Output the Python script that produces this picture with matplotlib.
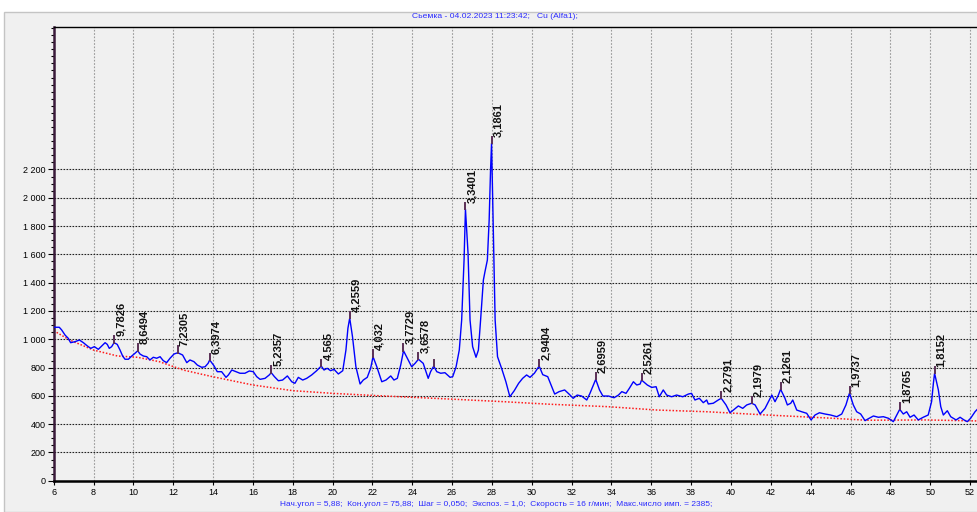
import matplotlib
matplotlib.use('Agg')
import matplotlib.pyplot as plt
from matplotlib.patches import Rectangle
from matplotlib.ticker import FuncFormatter, MultipleLocator, FixedLocator

plt.rcParams['font.family'] = ['Liberation Sans', 'DejaVu Sans']

# diffractogram, 2theta (deg) vs counts
two_theta = [6.00, 6.28, 6.40, 6.57, 6.73, 6.85, 7.07, 7.29, 7.49, 7.69, 7.86, 8.04, 8.24, 8.41,
             8.58, 8.69, 8.79, 8.91, 9.03, 9.19, 9.33, 9.46, 9.58, 9.75, 9.92, 10.08, 10.22,
             10.33, 10.50, 10.67, 10.83, 11.00, 11.17, 11.34, 11.50, 11.67, 11.84, 12.04, 12.23,
             12.47, 12.68, 12.84, 13.04, 13.21, 13.43, 13.60, 13.75, 13.83, 14.05, 14.21, 14.43,
             14.65, 14.77, 14.94, 15.15, 15.35, 15.60, 15.82, 16.02, 16.19, 16.36, 16.61, 16.82,
             16.92, 17.08, 17.28, 17.49, 17.73, 17.95, 18.11, 18.28, 18.50, 18.70, 18.95, 19.20,
             19.43, 19.57, 19.73, 19.90, 20.07, 20.29, 20.51, 20.67, 20.77, 20.86, 21.00, 21.17,
             21.38, 21.54, 21.74, 21.91, 22.03, 22.22, 22.47, 22.68, 22.92, 23.08, 23.25, 23.42,
             23.56, 23.75, 23.97, 24.14, 24.31, 24.55, 24.80, 24.92, 25.08, 25.23, 25.43, 25.64,
             25.90, 26.03, 26.20, 26.36, 26.48, 26.60, 26.67, 26.80, 26.90, 27.03, 27.20, 27.32,
             27.43, 27.57, 27.65, 27.77, 27.86, 27.93, 27.98, 28.06, 28.16, 28.28, 28.50, 28.70,
             28.90, 29.12, 29.34, 29.54, 29.74, 29.91, 30.13, 30.37, 30.55, 30.80, 31.15, 31.37,
             31.65, 31.87, 32.08, 32.28, 32.50, 32.76, 32.92, 33.09, 33.21, 33.40, 33.57, 33.85,
             34.13, 34.35, 34.52, 34.73, 34.90, 35.10, 35.27, 35.44, 35.51, 35.80, 36.02, 36.24,
             36.40, 36.60, 36.77, 37.02, 37.27, 37.58, 37.86, 38.02, 38.19, 38.41, 38.61, 38.78,
             38.86, 39.11, 39.36, 39.51, 39.75, 39.95, 40.12, 40.37, 40.59, 40.79, 41.04, 41.21,
             41.46, 41.71, 41.88, 42.05, 42.21, 42.38, 42.49, 42.71, 42.83, 43.00, 43.10, 43.30,
             43.55, 43.80, 44.02, 44.22, 44.44, 44.72, 45.00, 45.31, 45.56, 45.77, 45.95, 46.14,
             46.31, 46.51, 46.73, 46.90, 47.15, 47.40, 47.65, 47.90, 48.15, 48.32, 48.47, 48.65,
             48.82, 48.99, 49.19, 49.40, 49.65, 49.90, 50.07, 50.16, 50.22, 50.41, 50.53, 50.66,
             50.86, 51.03, 51.30, 51.50, 51.70, 51.86, 52.03, 52.25, 52.41]
counts = [1085, 1085, 1066, 1030, 1007, 976, 983, 995, 976, 953, 936, 948, 929, 953,
          976, 964, 936, 948, 976, 964, 924, 882, 859, 859, 882, 901, 919,
          896, 882, 877, 854, 873, 866, 877, 849, 835, 866, 896, 905,
          889, 835, 854, 842, 818, 802, 806, 830, 854, 812, 771, 771,
          731, 748, 783, 771, 760, 760, 776, 771, 736, 717, 724, 748,
          764, 736, 707, 712, 741, 700, 689, 731, 712, 724, 748, 778,
          811, 783, 795, 778, 788, 755, 778, 924, 1078, 1150, 1018, 806,
          684, 712, 731, 795, 877, 806, 700, 712, 741, 712, 724, 818,
          919, 866, 806, 830, 859, 830, 724, 771, 811, 771, 760, 764,
          731, 736, 806, 924, 1136, 1560, 1920, 1608, 1136, 948, 873, 924,
          1136, 1419, 1478, 1560, 1843, 2196, 2385, 1843, 1136, 877, 788, 700,
          594, 637, 689, 724, 748, 731, 760, 811, 750, 736, 613, 630,
          642, 613, 583, 606, 599, 571, 618, 677, 717, 642, 599, 599,
          587, 606, 630, 618, 654, 700, 677, 684, 712, 677, 660, 665,
          594, 642, 606, 594, 606, 594, 613, 618, 571, 583, 552, 571,
          543, 548, 571, 583, 536, 481, 500, 529, 512, 536, 548, 536,
          472, 512, 559, 606, 559, 606, 647, 583, 536, 548, 571, 500,
          488, 477, 430, 465, 481, 472, 465, 453, 472, 536, 620, 536,
          488, 472, 425, 439, 458, 449, 453, 442, 418, 465, 505, 472,
          488, 449, 465, 430, 449, 465, 559, 689, 760, 642, 524, 465,
          495, 453, 430, 449, 430, 418, 442, 488, 512]

# background line
bg_theta = [6.0, 6.8, 8.0, 9.2, 10.2, 11.3, 12.5, 13.9, 16.0, 18.0, 20.0, 22.2, 26.0, 28.6,
            30.9, 33.8, 36.3, 38.8, 41.8, 45.1, 46.8, 49.8, 52.4]
bg_counts = [1061, 995, 924, 882, 873, 842, 783, 738, 677, 637, 618, 602, 577, 559,
             541, 524, 500, 488, 465, 442, 428, 430, 423]

# marked peaks: 2theta, count at the top, d-spacing label
peak_theta = [9.03, 10.22, 12.23, 13.83, 16.92, 19.43, 20.86, 22.03, 23.56, 24.31, 25.08,
              26.67, 27.98, 30.37, 33.21, 35.51, 39.51, 41.04, 42.49, 45.95, 48.47, 50.22]
peak_counts = [976, 919, 905, 854, 764, 811, 1150, 877, 919, 859, 811,
               1920, 2385, 811, 717, 712, 583, 548, 647, 620, 505, 760]
peak_labels = ['9,7826', '8,6494', '7,2305', '6,3974', '5,2357', '4,565', '4,2559', '4,032',
               '3,7729', '3,6578', '', '3,3401', '3,1861', '2,9404', '2,6959', '2,5261',
               '2,2791', '2,1979', '2,1261', '1,9737', '1,8765', '1,8152']

title = 'Сьемка - 04.02.2023 11:23:42;   Cu (Alfa1);'
footer = ('Нач.угол = 5,88;  Кон.угол = 75,88;  Шаг = 0,050;  Экспоз. = 1,0;  '
          'Скорость = 16 г/мин;  Макс.число имп. = 2385;')

W, H = 978, 512
fig = plt.figure(figsize=(W / 100, H / 100), dpi=100, facecolor='white')
fig.patches.append(Rectangle((4 / W, 0), 1, (H - 12) / H, transform=fig.transFigure,
                             facecolor='#f0f0f0', edgecolor='#c4c4c4', lw=1, zorder=-10))

ax = fig.add_axes([53.7 / W, 31.2 / H, 1 - 53.7 / W, 453.8 / H])
ax.set_facecolor('#f0f0f0')
ax.set_xlim(6, 52.4)
ax.set_ylim(0, 3207)

# grid
for gx in range(8, 53, 2):
    ax.axvline(gx, color='#9a9a9a', lw=0.8, ls=(0, (1.5, 1.5)), zorder=1)
for gy in range(200, 2201, 200):
    ax.axhline(gy, color='#222222', lw=0.8, ls=(0, (1.5, 1.2)), zorder=1)

ax.plot(bg_theta, bg_counts, color='#ff1a1a', lw=1.1, ls=(0, (1, 1.2)), zorder=2)
ax.plot(two_theta, counts, color='#0000ff', lw=1.0, zorder=3)

for px, pc, lb in zip(peak_theta, peak_counts, peak_labels):
    ax.plot([px, px], [pc, pc + 45], color='#5a2f55', lw=1.4, zorder=4)
    if lb:
        ax.annotate(lb, (px, pc + 45), xytext=(1.2, 0), textcoords='offset points',
                    rotation=90, ha='left', va='bottom', fontsize=8, fontweight='bold',
                    color='#111111', zorder=5)

# axes look
ax.spines['right'].set_visible(False)
ax.spines['top'].set_color('black')
ax.spines['top'].set_linewidth(1.0)
ax.spines['bottom'].set_linewidth(1.8)
ax.spines['left'].set_color('#3a1a3a')
ax.spines['left'].set_linewidth(1.8)

ax.xaxis.set_major_locator(MultipleLocator(2))
ax.yaxis.set_major_locator(FixedLocator(range(0, 2201, 200)))
ax.yaxis.set_minor_locator(MultipleLocator(50))
ax.yaxis.set_major_formatter(FuncFormatter(lambda v, p: f'{int(v):,}'.replace(',', ' ')))
ax.tick_params(axis='both', labelsize=6.5, colors='black', pad=2)
ax.tick_params(axis='y', which='major', length=4, width=0.8)
ax.tick_params(axis='y', which='minor', length=2.5, width=0.8)
ax.tick_params(axis='x', which='major', length=3, width=0.8)

fig.text(0.506, 1 - 16 / H, title, ha='center', va='center', fontsize=6.1, color='#2a2aff')
fig.text(0.507, 1 - 505 / H, footer, ha='center', va='center', fontsize=6.0, color='#2a2aff')

fig.savefig('out.png', dpi=100, facecolor=fig.get_facecolor())
